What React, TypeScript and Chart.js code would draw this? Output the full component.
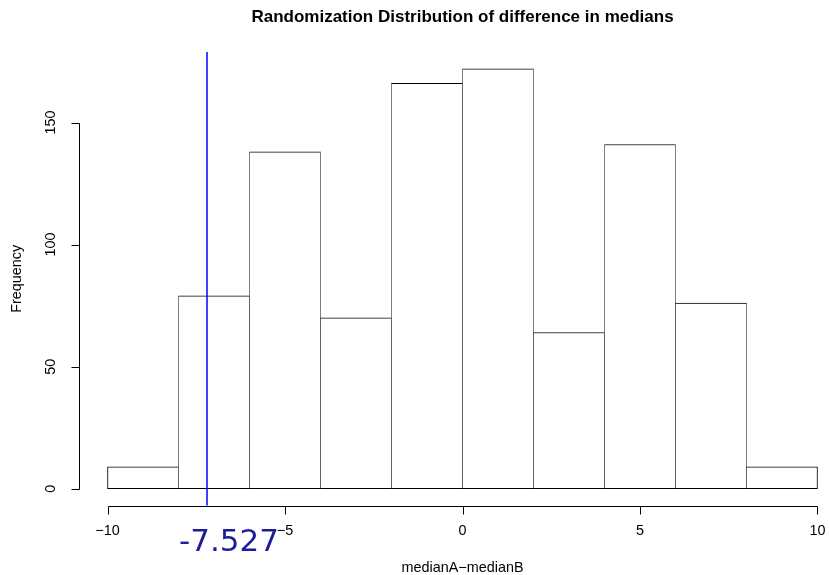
import React, { useEffect, useRef } from "react";
import { Chart, registerables } from "chart.js";

Chart.register(...registerables);

// ---- data ----
const BREAKS = [-10, -8, -6, -4, -2, 0, 2, 4, 6, 8, 10];
const COUNTS = [9, 79, 138, 70, 166, 172, 64, 141, 76, 9];
const X_TICKS = [-10, -5, 0, 5, 10];
const Y_TICKS = [0, 50, 100, 150];
const OBSERVED_DIFF = -7.2;
const TITLE = "Randomization Distribution of difference in medians";
const X_LABEL = "medianA\u2212medianB";
const Y_LABEL = "Frequency";
const NOTE = "-7.527";

const FONT = '"Liberation Sans", Arial, Helvetica, sans-serif';
const AXIS_PX = 14.4;
const TITLE_PX = 17;

const rAxesPlugin = {
  id: "rAxes",
  afterDraw(chart: any) {
    const { ctx, chartArea, scales } = chart;
    const xs = scales.x;
    const ys = scales.y;
    ctx.save();

    // observed-value line
    const bx = Math.round(xs.getPixelForValue(OBSERVED_DIFF));
    ctx.strokeStyle = "#0000ff";
    ctx.lineWidth = 1.5;
    ctx.beginPath();
    ctx.moveTo(bx, chartArea.top);
    ctx.lineTo(bx, chartArea.bottom);
    ctx.stroke();

    ctx.strokeStyle = "#000";
    ctx.fillStyle = "#000";
    ctx.lineWidth = 1;

    // x axis
    const ay = Math.round(chartArea.bottom) + 0.5;
    const x0 = Math.round(xs.getPixelForValue(X_TICKS[0])) + 0.5;
    const x1 = Math.round(xs.getPixelForValue(X_TICKS[X_TICKS.length - 1])) + 0.5;
    ctx.beginPath();
    ctx.moveTo(x0, ay);
    ctx.lineTo(x1, ay);
    X_TICKS.forEach((t) => {
      const px = Math.round(xs.getPixelForValue(t)) + 0.5;
      ctx.moveTo(px, ay);
      ctx.lineTo(px, ay + 8);
    });
    ctx.stroke();
    ctx.font = `${AXIS_PX}px ${FONT}`;
    ctx.textAlign = "center";
    ctx.textBaseline = "alphabetic";
    X_TICKS.forEach((t) => {
      const px = xs.getPixelForValue(t);
      const s = t < 0 ? "\u2212" + Math.abs(t) : String(t);
      ctx.fillText(s, px, 535);
    });

    // y axis
    const ax = Math.round(chartArea.left) + 0.5;
    const y0 = Math.round(ys.getPixelForValue(Y_TICKS[0])) + 0.5;
    const y1 = Math.round(ys.getPixelForValue(Y_TICKS[Y_TICKS.length - 1])) + 0.5;
    ctx.beginPath();
    ctx.moveTo(ax, y0);
    ctx.lineTo(ax, y1);
    Y_TICKS.forEach((t) => {
      const py = Math.round(ys.getPixelForValue(t)) + 0.5;
      ctx.moveTo(ax, py);
      ctx.lineTo(ax - 8, py);
    });
    ctx.stroke();
    Y_TICKS.forEach((t) => {
      const py = ys.getPixelForValue(t);
      ctx.save();
      ctx.translate(55, py);
      ctx.rotate(-Math.PI / 2);
      ctx.fillText(String(t), 0, 0);
      ctx.restore();
    });

    const cx = (chartArea.left + chartArea.right) / 2;
    const cy = (chartArea.top + chartArea.bottom) / 2;

    // axis titles
    ctx.fillText(X_LABEL, cx, 572);
    ctx.save();
    ctx.translate(21, cy);
    ctx.rotate(-Math.PI / 2);
    ctx.fillText(Y_LABEL, 0, 0);
    ctx.restore();

    // main title
    ctx.font = `bold ${TITLE_PX}px ${FONT}`;
    ctx.fillText(TITLE, cx, 22);

    // handwritten note
    ctx.font = `31px "DejaVu Sans", sans-serif`;
    ctx.fillStyle = "#1c1c9a";
    ctx.textAlign = "left";
    ctx.fillText(NOTE, 179, 551);

    ctx.restore();
  },
};

export default function App() {
  const ref = useRef<HTMLCanvasElement | null>(null);

  useEffect(() => {
    if (!ref.current) return;
    const last = COUNTS.length - 1;
    const data = COUNTS.map((c, i) => ({ x: (BREAKS[i] + BREAKS[i + 1]) / 2, y: c }));
    const chart = new Chart(ref.current, {
      type: "bar",
      data: {
        datasets: [
          {
            data,
            backgroundColor: "#ffffff",
            borderColor: "#000000",
            borderWidth: (c: any) => ({
              top: 1,
              bottom: 1,
              left: c.dataIndex === 0 ? 1 : 0.5,
              right: c.dataIndex === last ? 1 : 0.5,
            }),
            borderSkipped: false,
            barPercentage: 1,
            categoryPercentage: 1,
          } as any,
        ],
      },
      options: {
        responsive: false,
        animation: false,
        devicePixelRatio: 1,
        layout: { padding: { left: 79.1, top: 52, right: 2.1, bottom: 69.5 } },
        plugins: { legend: { display: false }, tooltip: { enabled: false }, title: { display: false } },
        scales: {
          x: { type: "linear", min: -10.8, max: 10.8, offset: false, display: false },
          y: { type: "linear", min: -6.88, max: 178.88, display: false },
        },
      } as any,
      plugins: [rAxesPlugin],
    });
    return () => chart.destroy();
  }, []);

  return (
    <div style={{ position: "fixed", left: 0, top: 0, width: 829, height: 575, overflow: "hidden", background: "#fff" }}>
      <canvas ref={ref} width={848} height={575} style={{ display: "block" }} />
    </div>
  );
}
